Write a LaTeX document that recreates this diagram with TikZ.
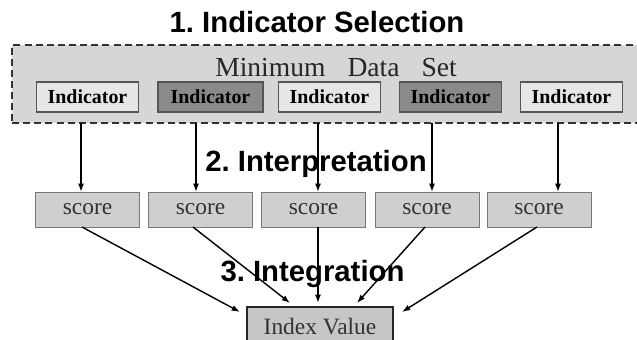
\documentclass[tikz,border=0pt]{standalone}
\usepackage{fontspec}
\setmainfont{Liberation Serif}
\newfontfamily\headfont{Liberation Sans}
\usepackage{tikz}
\usetikzlibrary{positioning}
\usetikzlibrary{calc}
\usetikzlibrary{arrows.meta}
\definecolor{setgray}{HTML}{D6D6D6}
\definecolor{boxlight}{HTML}{E6E6E6}
\definecolor{boxdark}{HTML}{8A8A8A}
\definecolor{scoregray}{HTML}{CFCFCF}
\definecolor{indexgray}{HTML}{C6C6C6}
\definecolor{edgegray}{HTML}{555555}
\frenchspacing
\tikzset{
	every node/.style={outer sep=0pt},
	arrow/.style={-{Latex[length=2.5mm,width=1.8mm]}, line width=1.2pt},
	heading/.style={anchor=base, font=\headfont\bfseries\fontsize{25}{27}\selectfont},
	indicator/.style={rectangle, draw=edgegray, line width=1pt, fill=boxlight,
		minimum width=3.05cm, minimum height=0.9cm, inner sep=0pt,
		font=\bfseries\fontsize{17}{19}\selectfont},
	keyind/.style={indicator, fill=boxdark},
	score/.style={rectangle, draw=edgegray!80, line width=0.8pt, fill=scoregray,
		minimum width=3.12cm, minimum height=1.05cm, inner sep=0pt,
		font=\fontsize{20}{22}\selectfont, text=black!80}
}

\begin{document}
\begin{tikzpicture}[x=0.03cm, y=-0.03cm]
	\useasboundingbox (0,0) rectangle (637,340);
	
	% minimum data set
	\node[rectangle, fill=setgray, draw=black!80, line width=1.6pt,
		dash pattern=on 6pt off 3.5pt, minimum width=18.99cm, minimum height=2.34cm] (mds) at (328.5,84) {};
	\node[anchor=base, font=\fontsize{23.5}{25}\selectfont, text=black!85] (mdstext) at (336,77)
		{Minimum\hspace{0.55em} Data\hspace{0.55em} Set};
	
	\node[indicator] (i1) at (87.5,97) {Indicator};
	\node[keyind, minimum width=3.15cm] (i2) at (210.5,97) {Indicator};
	\node[indicator] (i3) at (329.5,97) {Indicator};
	\node[keyind] (i4) at (450.5,97) {Indicator};
	\node[indicator] (i5) at (571.5,97) {Indicator};
	
	% scores
	\node[score] (s1) at (87.5,209.5) {score};
	\node[score] (s2) at (200.5,209.5) {score};
	\node[score] (s3) at (313.5,209.5) {score};
	\node[score] (s4) at (427,209.5) {score};
	\node[score] (s5) at (539,209.5) {score};
	
	\node[rectangle, draw=black!85, line width=1.6pt, fill=indexgray, minimum width=4.38cm,
		minimum height=1.2cm, font=\fontsize{20}{22}\selectfont, text=black!80] (iv) at (320,327) {Index Value};
	
	% steps
	\node[heading] (step1) at (317,33) {1. Indicator Selection};
	\node[heading] (step2) at (316,172) {2. Interpretation};
	\node[heading] (step3) at (312.5,281) {3. Integration};
	
	\foreach \s/\dx in {s1/-6.5, s2/-4.5, s3/4.5, s4/5, s5/19}
		\draw[arrow] ($(mds.south -| \s.north)+(\dx,0)$) -- ($(\s.north)+(\dx,0)$);
	
	\draw[arrow] ($(s1.south)+(-5.5,0)$) -- ($(iv.north west)+(-7,5)$);
	\draw[arrow] ($(s2.south)+(-7.5,0)$) -- ($(iv.north)+(-30,-4)$);
	\draw[arrow] ($(s3.south)+(4.5,0)$) -- ($(iv.north)+(-2,-4)$);
	\draw[arrow] ($(s4.south)+(-2,0)$) -- ($(iv.north)+(37,-4)$);
	\draw[arrow] ($(s5.south)+(-2,0)$) -- ($(iv.north east)+(9,5)$);
\end{tikzpicture}
\end{document}
